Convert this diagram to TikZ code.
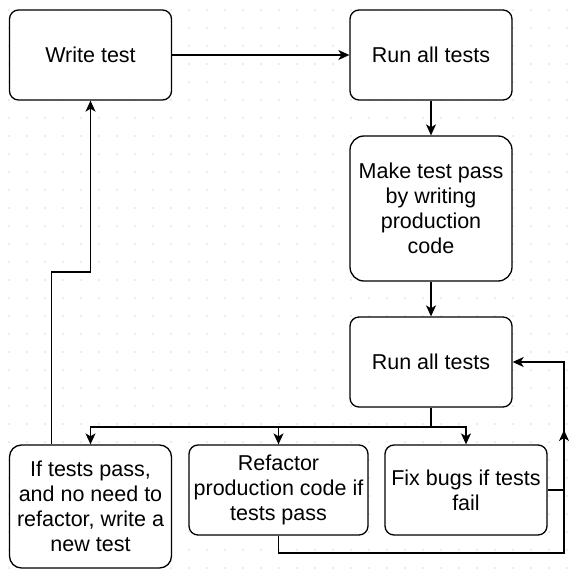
\documentclass[tikz,border=0pt]{standalone}
\usepackage{fontspec}
\setmainfont{Liberation Sans}
\usetikzlibrary{arrows.meta,calc}

\tikzset{
    stage/.style={draw, fill=white, line width=1.3pt, rounded corners=9pt,
        minimum width=162pt, minimum height=90pt, align=center, inner sep=2pt,
        font=\fontsize{21.5}{25}\selectfont},
    flow/.style={line width=1.3pt, -{Stealth[length=11pt,width=10pt,inset=3pt]}},
}

\begin{document}
\begin{tikzpicture}[x=1pt, y=-1pt]
    % Canvas and dotted grid
    \useasboundingbox (0,0) rectangle (569,572);
    \foreach \i in {0,...,31}
        \foreach \j in {0,...,31}
            \fill[gray!30] (9+18*\i, 10+18*\j) circle (0.8pt);

    % Top row
    \node[stage] (write) at (90.5,55) {Write test};
    \node[stage] (run) at (431,55) {Run all tests};

    % Right column
    \node[stage, minimum height=145pt, rounded corners=14pt] (make) at (431,208.5)
        {Make test pass\\by writing\\production\\code};
    \node[stage] (rerun) at (431,362) {Run all tests};

    % Bottom row
    \node[stage, minimum height=123pt, rounded corners=12pt] (newtest) at (90.5,506.5)
        {If tests pass,\\and no need to\\refactor, write a\\new test};
    \node[stage, minimum width=179pt] (refactor) at (278.5,490)
        {Refactor\\production code if\\tests pass};
    \node[stage] (fixbugs) at (466,490) {Fix bugs if tests\\fail};

    % Bend points
    \coordinate (fork) at (431,427);
    \coordinate (bend) at (51.5,272);
    \coordinate (loop) at (564,553);
    \coordinate (fixend) at (564,430);

    % Main cycle
    \draw[flow] (write) -- (run);
    \draw[flow] (run) -- (make);
    \draw[flow] (make) -- (rerun);

    % Split after the second run
    \draw[line width=1.3pt] (rerun) -- (fork);
    \draw[flow] (fork) -| (newtest);
    \draw[flow] (fork) -| (refactor);
    \draw[flow] (fork) -| (fixbugs);

    % Back to the start
    \draw[flow] (newtest.north -| bend) -- (bend) -| (write);
    \draw[flow] (refactor) |- (loop) |- (rerun);
    \draw[flow] (fixbugs) -| (fixend);
\end{tikzpicture}
\end{document}
